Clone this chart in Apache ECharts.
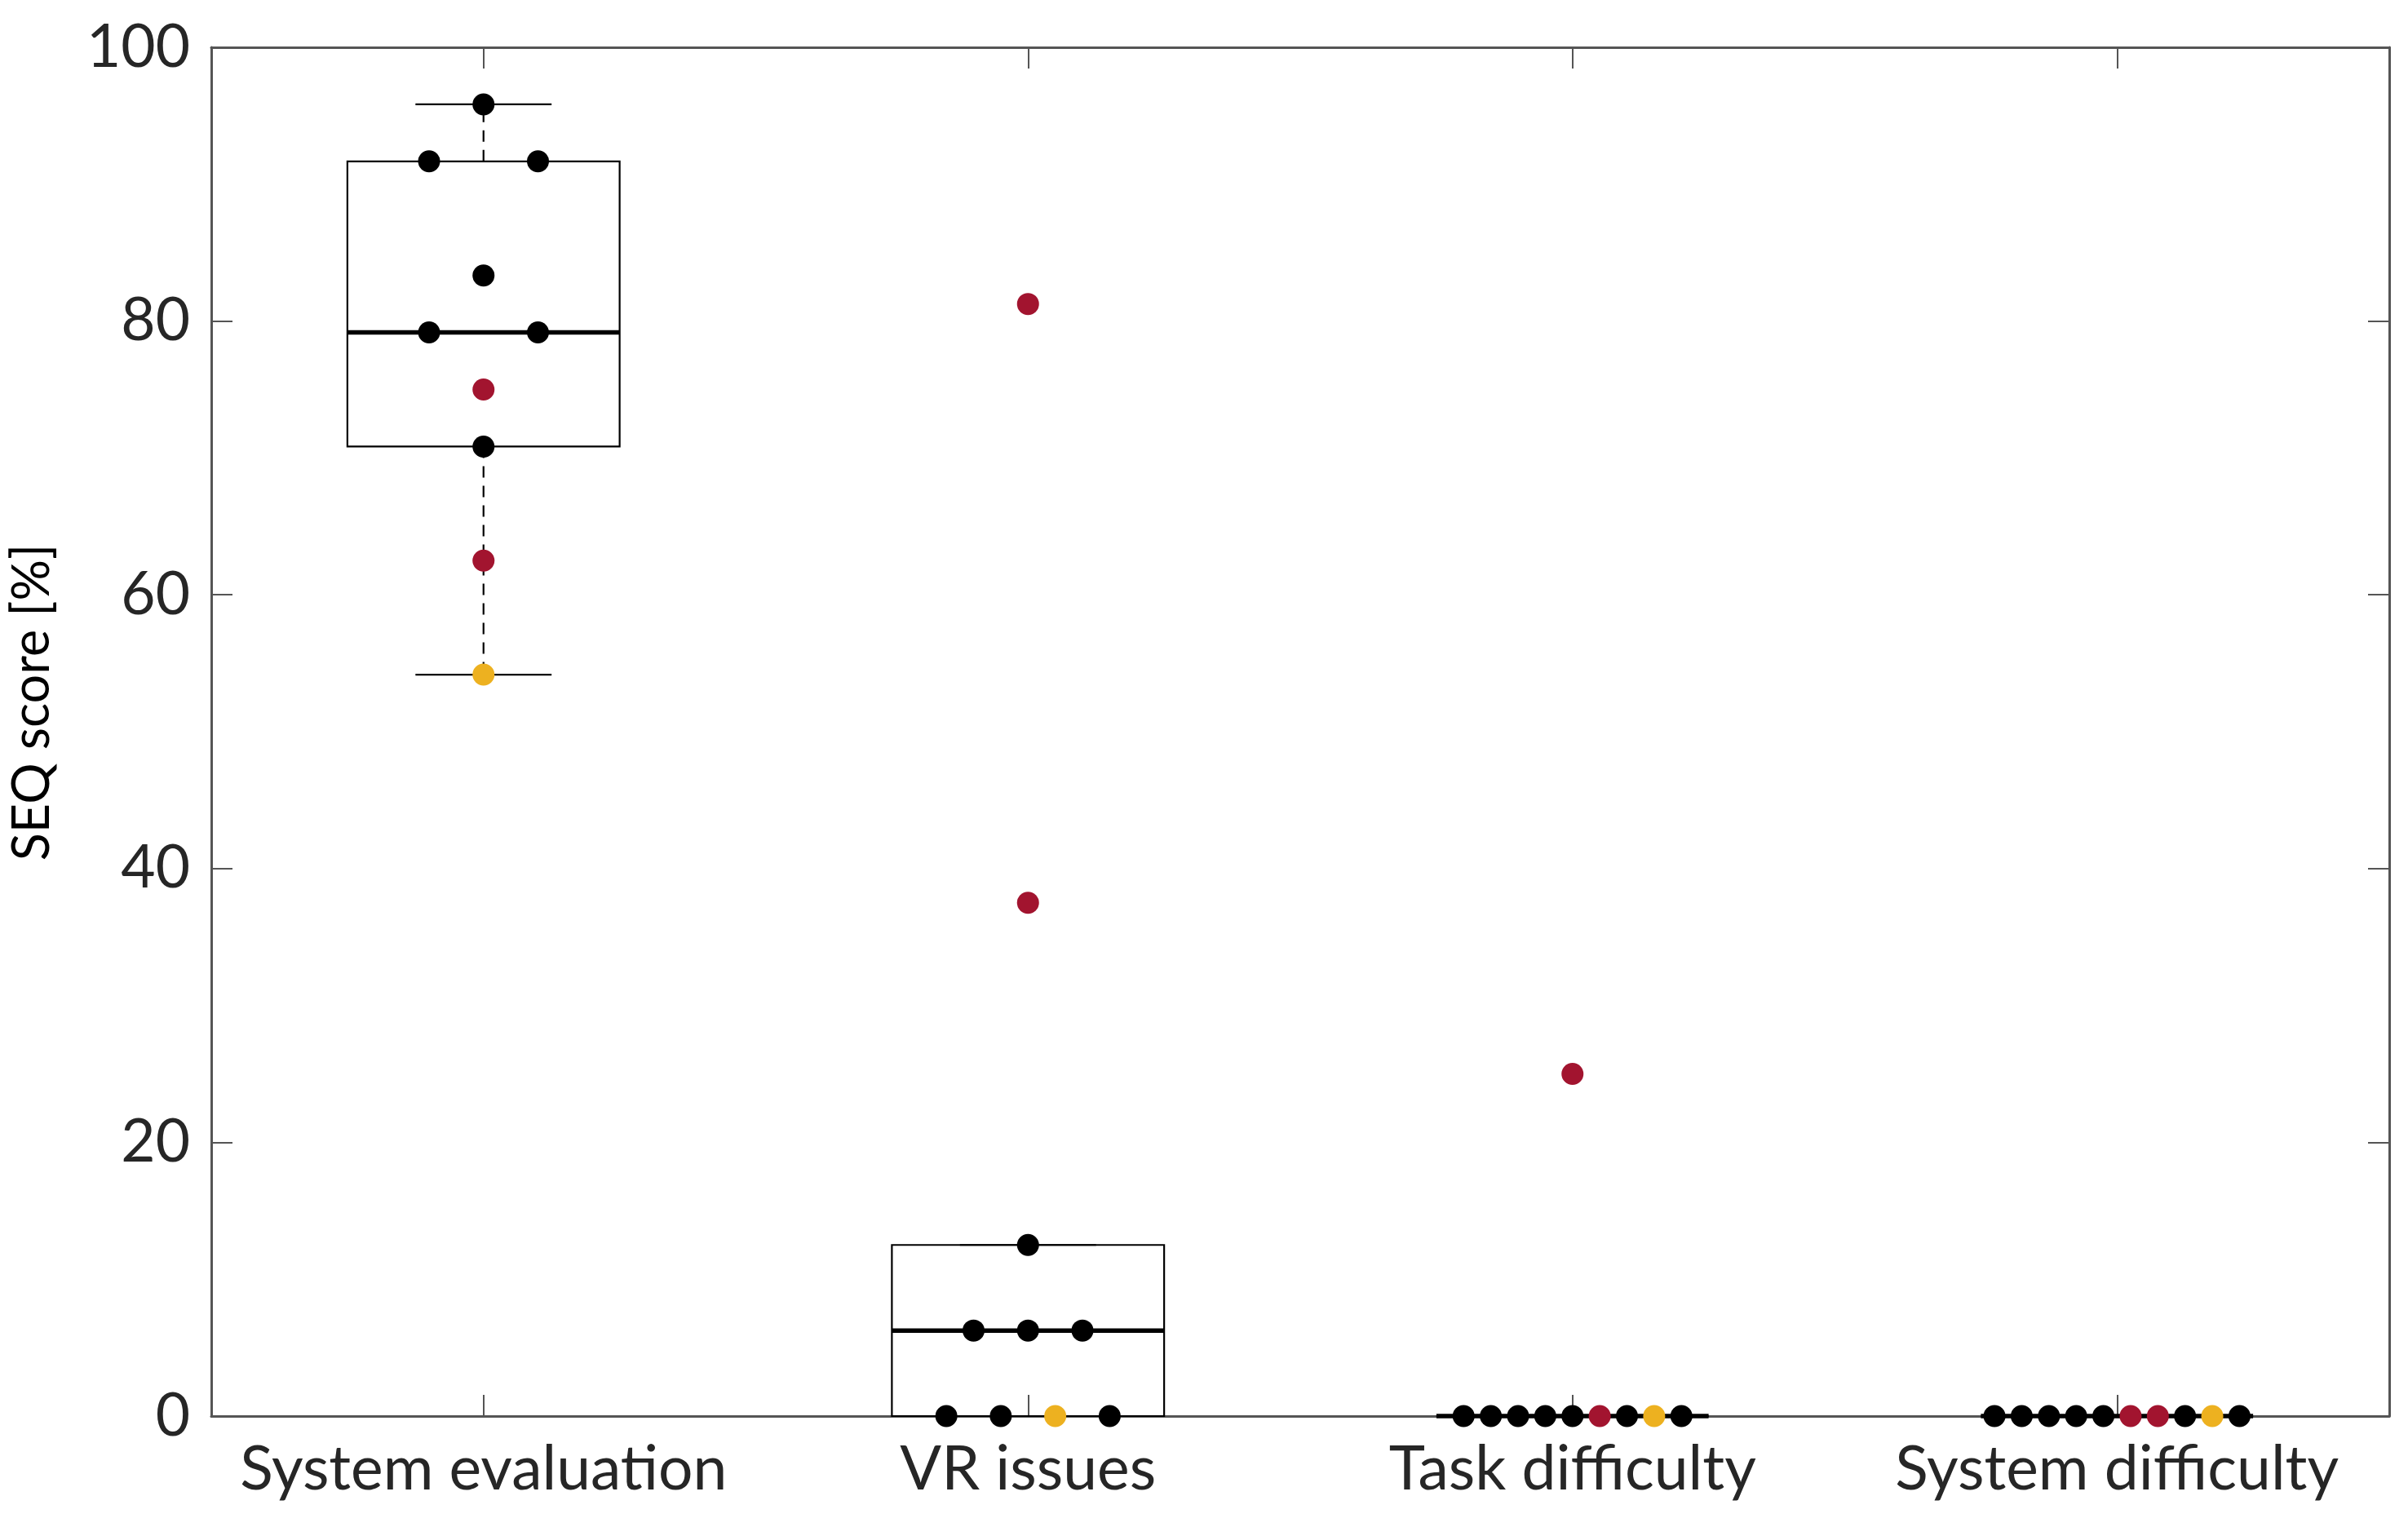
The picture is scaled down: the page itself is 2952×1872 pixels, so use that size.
<!DOCTYPE html>
<html>
<head>
<meta charset="utf-8">
<script src="https://cdn.jsdelivr.net/npm/echarts@6/dist/echarts.min.js"></script>
<style>
  html, body { margin: 0; padding: 0; background: #ffffff; }
  #chart { width: 2952px; height: 1872px; }
</style>
</head>
<body>
<div id="chart"></div>
<script>
// ---- Data ----
const categories = ['System evaluation', 'VR issues', 'Task difficulty', 'System difficulty'];
const yTicks = [0, 20, 40, 60, 80, 100];

// Scores per category, ordered top-to-bottom then left-to-right within ties
const systemEvaluation = [95.83, 91.67, 91.67, 83.33, 79.17, 79.17, 75.00, 70.83, 62.50, 54.17];
const systemEvaluationGroup = ['k', 'k', 'k', 'k', 'k', 'k', 'r', 'k', 'r', 'y'];

const vrIssues = [81.25, 37.50, 12.50, 6.25, 6.25, 6.25, 0, 0, 0, 0];
const vrIssuesGroup = ['r', 'r', 'k', 'k', 'k', 'k', 'k', 'k', 'y', 'k'];

const taskDifficulty = [25.00, 0, 0, 0, 0, 0, 0, 0, 0, 0];
const taskDifficultyGroup = ['r', 'k', 'k', 'k', 'k', 'k', 'r', 'k', 'y', 'k'];

const systemDifficulty = [0, 0, 0, 0, 0, 0, 0, 0, 0, 0];
const systemDifficultyGroup = ['k', 'k', 'k', 'k', 'k', 'r', 'r', 'k', 'y', 'k'];

const allValues = [systemEvaluation, vrIssues, taskDifficulty, systemDifficulty];
const allGroups = [systemEvaluationGroup, vrIssuesGroup, taskDifficultyGroup, systemDifficultyGroup];

// ---- Styles ----
const groupColor = { k: '#000000', r: '#A2142F', y: '#EDB120' };
const FONT = 'Lato';
const AXIS_COLOR = '#555555';
const TEXT_COLOR = '#262626';

// ---- Helpers ----
function prctile(sorted, p) {
  const n = sorted.length;
  const pos = p / 100 * n + 0.5; // MATLAB-style, 1-based
  if (pos <= 1) return sorted[0];
  if (pos >= n) return sorted[n - 1];
  const lo = Math.floor(pos);
  const f = pos - lo;
  return sorted[lo - 1] + f * (sorted[lo] - sorted[lo - 1]);
}
function boxStats(vals) {
  const s = vals.slice().sort((a, b) => a - b);
  const q1 = prctile(s, 25), med = prctile(s, 50), q3 = prctile(s, 75);
  const iqr = q3 - q1;
  const hiFence = q3 + 1.5 * iqr, loFence = q1 - 1.5 * iqr;
  const inside = s.filter(v => v >= loFence && v <= hiFence);
  return [inside[0], q1, med, q3, inside[inside.length - 1]];
}
function spacingFor(n) {
  if (n <= 2) return 0.2;
  if (n <= 4) return 0.1;
  return 0.05;
}

const boxData = allValues.map((vals, i) => [i].concat(boxStats(vals)));

const dotData = [];
allValues.forEach((vals, i) => {
  const groups = allGroups[i];
  let start = 0;
  while (start < vals.length) {
    let end = start;
    while (end + 1 < vals.length && vals[end + 1] === vals[start]) end++;
    const n = end - start + 1;
    const sp = spacingFor(n);
    for (let j = 0; j < n; j++) {
      const off = (j - (n - 1) / 2) * sp;
      dotData.push({
        value: [i + off, vals[start + j]],
        itemStyle: { color: groupColor[groups[start + j]] }
      });
    }
    start = end + 1;
  }
});

const chart = echarts.init(document.getElementById('chart'), null, { renderer: 'canvas' });

const tickStyle = { show: true, inside: true, length: 26, lineStyle: { color: AXIS_COLOR, width: 2 } };

const option = {
  backgroundColor: '#ffffff',
  animation: false,
  grid: { left: 248, right: 23, top: 58, bottom: 136, containLabel: false },
  xAxis: [
    {
      type: 'category', data: categories, position: 'bottom', boundaryGap: true,
      axisLine: { show: true, onZero: false, lineStyle: { color: AXIS_COLOR, width: 3 } },
      axisTick: Object.assign({ alignWithLabel: true }, tickStyle),
      axisLabel: { color: TEXT_COLOR, fontFamily: FONT, fontSize: 75, margin: 28, interval: 0 },
      splitLine: { show: false }
    },
    {
      type: 'category', data: categories, position: 'top', boundaryGap: true,
      axisLine: { show: true, onZero: false, lineStyle: { color: AXIS_COLOR, width: 3 } },
      axisTick: Object.assign({ alignWithLabel: true }, tickStyle),
      axisLabel: { show: false },
      splitLine: { show: false }
    },
    {
      type: 'value', min: -0.5, max: 3.5, show: false
    }
  ],
  yAxis: [
    {
      type: 'value', min: 0, max: 100, interval: 20, position: 'left',
      name: 'SEQ score [%]', nameLocation: 'middle', nameGap: 188,
      nameTextStyle: { color: '#000000', fontFamily: FONT, fontSize: 63, padding: [0, 0, 0, 72] },
      axisLine: { show: true, onZero: false, lineStyle: { color: AXIS_COLOR, width: 3 } },
      axisTick: tickStyle,
      axisLabel: { color: TEXT_COLOR, fontFamily: FONT, fontSize: 73, margin: 26,
        formatter: v => (yTicks.indexOf(v) >= 0 ? String(v) : '') },
      splitLine: { show: false }
    },
    {
      type: 'value', min: 0, max: 100, interval: 20, position: 'right',
      axisLine: { show: true, onZero: false, lineStyle: { color: AXIS_COLOR, width: 3 } },
      axisTick: tickStyle,
      axisLabel: { show: false },
      splitLine: { show: false }
    }
  ],
  series: [
    {
      type: 'custom',
      name: 'box',
      xAxisIndex: 0, yAxisIndex: 0,
      z: 3,
      data: boxData,
      encode: { x: 0, y: [1, 2, 3, 4, 5] },
      renderItem: function (params, api) {
        const c = api.value(0);
        const center = api.coord([c, api.value(3)]);
        const x = center[0];
        const yLow = api.coord([c, api.value(1)])[1];
        const yQ1 = api.coord([c, api.value(2)])[1];
        const yMed = center[1];
        const yQ3 = api.coord([c, api.value(4)])[1];
        const yHigh = api.coord([c, api.value(5)])[1];
        const band = api.size([1, 0])[0];
        const boxW = band * 0.5;
        const capW = boxW / 2;
        const thin = { stroke: '#000000', lineWidth: 2.2, fill: null };
        const dashed = { stroke: '#000000', lineWidth: 2.2, lineDash: [14, 10] };
        return {
          type: 'group',
          children: [
            { type: 'line', shape: { x1: x, y1: yQ3, x2: x, y2: yHigh }, style: dashed },
            { type: 'line', shape: { x1: x, y1: yQ1, x2: x, y2: yLow }, style: dashed },
            { type: 'line', shape: { x1: x - capW / 2, y1: yHigh, x2: x + capW / 2, y2: yHigh }, style: thin },
            { type: 'line', shape: { x1: x - capW / 2, y1: yLow, x2: x + capW / 2, y2: yLow }, style: thin },
            { type: 'rect', shape: { x: x - boxW / 2, y: yQ3, width: boxW, height: yQ1 - yQ3 }, style: thin },
            { type: 'line', shape: { x1: x - boxW / 2, y1: yMed, x2: x + boxW / 2, y2: yMed },
              style: { stroke: '#000000', lineWidth: 5.5 } }
          ]
        };
      }
    },
    {
      type: 'scatter',
      name: 'scores',
      xAxisIndex: 2, yAxisIndex: 0,
      z: 5,
      symbol: 'circle',
      symbolSize: 27,
      itemStyle: { opacity: 1 },
      data: dotData
    }
  ]
};

chart.setOption(option);
</script>
</body>
</html>
